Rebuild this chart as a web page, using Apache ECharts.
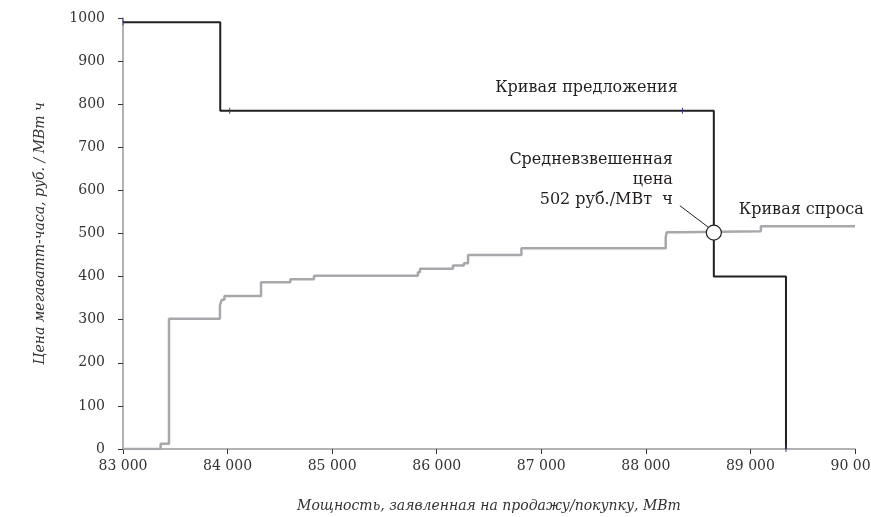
<!DOCTYPE html>
<html><head><meta charset="utf-8">
<script src="https://cdn.jsdelivr.net/npm/echarts@6/dist/echarts.min.js"></script>
<style>html,body{margin:0;padding:0;background:#fff}#c{width:871px;height:517px}</style>
</head><body><div id="c"></div>
<script>
// Supply curve (step: value holds until next x)
const supplyX = [83000, 83930, 88650, 89340];
const supplyY = [990, 785, 400, 0];
// small point marks on supply curve
const supplyMarkX = [83000, 84020, 88350, 89340];
const supplyMarkY = [990, 785, 785, 0];
// Demand curve
const demandX = [83000, 83360, 83440, 83927, 83945, 83970, 84320, 84600, 84826, 85820, 85840, 86155, 86260, 86300, 86810, 88190, 88200, 88340, 89100, 90000];
const demandY = [0, 12, 302, 334, 346, 355, 387, 394, 402, 410, 418, 426, 431, 450, 466, 492, 503, 505, 517, 517];
// Equilibrium
const eqX = 88650, eqY = 502;
const eqText = ['Средневзвешенная', 'цена', '502 руб./МВт  ч'];
const supplyLabel = 'Кривая предложения';
const demandLabel = 'Кривая спроса';
const xName = 'Мощность, заявленная на продажу/покупку, МВт';
const yName = 'Цена мегаватт-часа, руб. / МВт ч';

const FONT = 'DejaVu Serif';
const chart = echarts.init(document.getElementById('c'));
chart.setOption({
  animation: false,
  grid: {left: 123, right: 16, top: 18, bottom: 68, outerBoundsMode: 'none', containLabel: false},
  xAxis: {
    type: 'value', min: 83000, max: 90000, interval: 1000,
    name: xName, nameLocation: 'middle', nameGap: 50,
    nameTextStyle: {fontFamily: FONT, fontStyle: 'italic', fontSize: 14, color: '#333'},
    axisLine: {lineStyle: {color: '#999', width: 1.5}},
    axisTick: {show: true, length: 5, lineStyle: {color: '#333'}},
    axisLabel: {fontFamily: FONT, fontSize: 14, color: '#333', margin: 10,
      formatter: v => Math.floor(v / 1000) + ' 000'},
    splitLine: {show: false}
  },
  yAxis: {
    type: 'value', min: 0, max: 1000, interval: 100,
    name: yName, nameLocation: 'middle', nameGap: 76, nameRotate: 90,
    nameTextStyle: {fontFamily: FONT, fontStyle: 'italic', fontSize: 14, color: '#333'},
    axisLine: {show: true, lineStyle: {color: '#999', width: 1.5}},
    axisTick: {show: true, length: 5, lineStyle: {color: '#333'}},
    axisLabel: {fontFamily: FONT, fontSize: 14, color: '#333', margin: 18, formatter: v => String(v)},
    splitLine: {show: false}
  },
  series: [
    {type: 'line', step: 'end', symbol: 'none', z: 2,
     data: demandX.map((x, i) => [x, demandY[i]]),
     lineStyle: {color: '#a7a8ab', width: 2.5}},
    {type: 'line', step: 'end', symbol: 'none', z: 3,
     data: supplyX.map((x, i) => [x, supplyY[i]]),
     lineStyle: {color: '#231f20', width: 2}},
    {type: 'scatter', symbol: 'rect', symbolSize: [1, 6], z: 4,
     itemStyle: {color: '#3b3b8f', opacity: 1},
     data: supplyMarkX.map((x, i) => [x, supplyMarkY[i]])},
    {type: 'scatter', symbol: 'circle', symbolSize: 15, z: 5,
     itemStyle: {color: '#fff', borderColor: '#231f20', borderWidth: 1.2, opacity: 1},
     data: [[eqX, eqY]]}
  ]
});

const p = chart.convertToPixel({gridIndex: 0}, [eqX, eqY]);
const ps = chart.convertToPixel({gridIndex: 0}, [supplyX[2], supplyY[1]]);
const ts = {fontFamily: FONT, fontSize: 16, fill: '#231f20'};
chart.setOption({graphic: [
  {type: 'text', x: ps[0] - 36, y: ps[1] - 23, style: Object.assign({text: supplyLabel, align: 'right', verticalAlign: 'middle'}, ts)},
  {type: 'text', x: p[0] - 41, y: p[1] - 83,
   style: Object.assign({text: eqText.join('\n'), align: 'right', verticalAlign: 'top', lineHeight: 20}, ts)},
  {type: 'text', x: p[0] + 25, y: p[1] - 23, style: Object.assign({text: demandLabel, verticalAlign: 'middle'}, ts)},
  {type: 'line', shape: {x1: p[0] - 34, y1: p[1] - 27, x2: p[0] - 5, y2: p[1] - 5},
   style: {stroke: '#231f20', lineWidth: 1}}
]});
</script></body></html>
